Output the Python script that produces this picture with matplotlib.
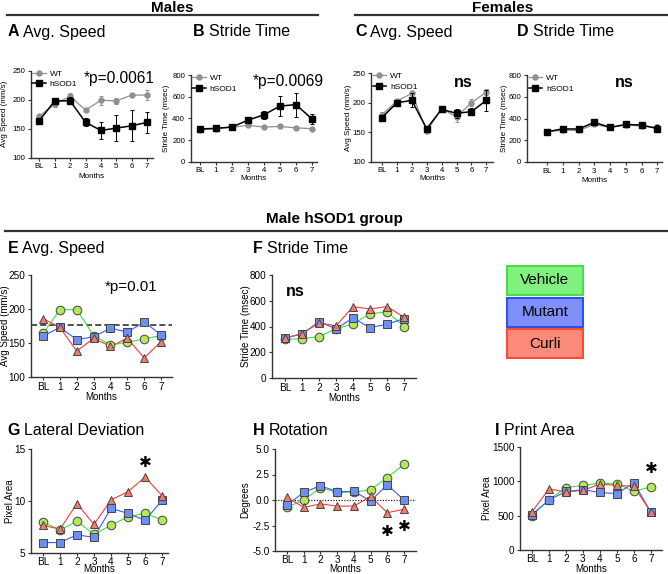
import matplotlib
matplotlib.use("Agg")
import matplotlib.pyplot as plt
from matplotlib.patches import Rectangle
from matplotlib.lines import Line2D

plt.rcParams['font.family'] = ['Liberation Sans', 'DejaVu Sans']

W, H = 668, 574
months = ["BL", "1", "2", "3", "4", "5", "6", "7"]
x = list(range(len(months)))

# ---- Top row: WT vs hSOD1 ----
a_wt = [172, 192, 206, 182, 199, 198, 208, 208]
a_wt_err = [2, 5, 6, 3, 8, 5, 3, 8]
a_sod = [164, 198, 198, 161, 147, 151, 155, 161]
a_sod_err = [3, 3, 6, 7, 15, 22, 27, 18]

b_wt = [293, 305, 318, 335, 320, 325, 312, 305]
b_wt_err = [10, 10, 10, 15, 10, 10, 10, 10]
b_sod = [302, 308, 320, 383, 433, 513, 527, 395]
b_sod_err = [10, 10, 12, 22, 35, 95, 110, 45]

c_wt = [180, 203, 216, 152, 190, 176, 200, 218]
c_wt_err = [5, 3, 3, 3, 3, 8, 6, 5]
c_sod = [175, 200, 204, 156, 189, 182, 185, 204]
c_sod_err = [4, 3, 12, 3, 3, 8, 6, 18]

d_wt = [278, 292, 290, 345, 318, 340, 330, 315]
d_wt_err = [10, 12, 15, 15, 10, 12, 15, 30]
d_sod = [278, 305, 303, 365, 318, 345, 340, 308]
d_sod_err = [10, 15, 20, 20, 10, 15, 20, 30]

# ---- Male hSOD1 group: Vehicle / Mutant / Curli ----
e_veh = [164, 199, 199, 161, 147, 151, 156, 161]
e_mut = [160, 173, 155, 159, 172, 166, 181, 162]
e_cur = [186, 173, 138, 157, 145, 157, 128, 152]
e_ref = 177

f_veh = [300, 305, 322, 382, 420, 498, 515, 400]
f_mut = [312, 340, 437, 382, 466, 390, 418, 462]
f_cur = [310, 345, 428, 405, 554, 536, 555, 472]

g_veh = [8.0, 7.2, 8.05, 6.8, 7.65, 8.5, 8.8, 8.2]
g_mut = [6.0, 6.0, 6.75, 6.5, 9.3, 8.8, 8.15, 10.05]
g_cur = [7.65, 7.3, 9.75, 7.75, 10.1, 10.9, 12.3, 10.5]

h_veh = [-0.7, 0.0, 1.2, 0.75, 0.78, 1.0, 2.2, 3.5]
h_mut = [-0.5, 0.75, 1.4, 0.82, 0.85, -0.1, 1.5, 0.0]
h_cur = [0.25, -0.72, -0.38, -0.6, -0.6, 0.35, -1.25, -0.9]

i_veh = [500, 732, 910, 940, 975, 965, 855, 918]
i_mut = [515, 728, 852, 878, 838, 820, 978, 548]
i_cur = [555, 888, 845, 868, 960, 942, 928, 548]

groups = ["Vehicle", "Mutant", "Curli"]

fig = plt.figure(figsize=(W / 100, H / 100), dpi=100)
renderer = fig.canvas.get_renderer()

SP = '#333333'


def make_ax(l, r, t, b, xlim, ylim, yticks, ticksize, ylabel, labsize, ylab_x, xlab_y, yfmt=None,
            xpad=1.5):
    ax = fig.add_axes([l / W, 1 - b / H, (r - l) / W, (b - t) / H])
    ax.set_xlim(*xlim)
    ax.set_ylim(*ylim)
    for s in ['top', 'right']:
        ax.spines[s].set_visible(False)
    for s in ['left', 'bottom']:
        ax.spines[s].set_color(SP)
        ax.spines[s].set_linewidth(1.0)
    ax.set_xticks(x)
    ax.set_xticklabels(months)
    ax.set_yticks(yticks)
    if yfmt is not None:
        ax.set_yticklabels([yfmt(v) for v in yticks])
    ax.tick_params(axis='both', length=2.5, width=0.8, color=SP, labelsize=ticksize, pad=1.5)
    ax.tick_params(axis='x', pad=xpad)
    ax.set_xlabel("Months", fontsize=labsize, va='center')
    ax.set_ylabel(ylabel, fontsize=labsize, va='center')
    ax.yaxis.set_label_coords((ylab_x - l) / (r - l), 0.5)
    ax.xaxis.set_label_coords(0.5, -(xlab_y - b) / (b - t))
    return ax


def title(xpx, ybase, letter, rest, size=11.5):
    t1 = fig.text(xpx / W, 1 - ybase / H, letter, fontsize=size, fontweight='bold', va='baseline')
    bb = t1.get_window_extent(renderer)
    fig.text((bb.x1 + 4) / W, 1 - ybase / H, rest, fontsize=size, va='baseline')


def top_plot(ax, wt, wte, sod, sode):
    ax.errorbar(x, wt, yerr=wte, color='#909090', marker='o', ms=3.6, mfc='#909090', mec='#909090',
                lw=0.9, elinewidth=0.7, capsize=1.6, capthick=0.7, clip_on=False, zorder=3)
    ax.errorbar(x, sod, yerr=sode, color='black', marker='s', ms=4.2, mfc='black', mec='black',
                lw=1.1, elinewidth=0.7, capsize=1.6, capthick=0.7, clip_on=False, zorder=4)
    h1 = Line2D([], [], color='#909090', marker='o', ms=3.6, lw=0.9)
    h2 = Line2D([], [], color='black', marker='s', ms=4.2, lw=1.1)
    ax.legend([h1, h2], ["WT", "hSOD1"], loc='upper left', frameon=False, fontsize=6,
              handlelength=1.6, handletextpad=0.5, borderaxespad=0.1, borderpad=0.1,
              labelspacing=0.35, bbox_to_anchor=(0.0, 1.03))


STY = {
    "Vehicle": dict(line='#3ee23e', fill='#b4e85a', marker='o', ms=6.2),
    "Mutant": dict(line='#3a5cff', fill='#6e8ff2', marker='s', ms=6.0),
    "Curli": dict(line='#ff3a3a', fill='#f27d6b', marker='^', ms=6.4),
}


def grp_plot(ax, veh, mut, cur):
    for name, vals in zip(groups, [veh, mut, cur]):
        s = STY[name]
        ax.plot(x, vals, color=s['line'], lw=0.8, zorder=3, clip_on=False)
    for name, vals in zip(groups, [veh, mut, cur]):
        s = STY[name]
        ax.plot(x, vals, linestyle='none', marker=s['marker'], ms=s['ms'], mfc=s['fill'],
                mec='#444444', mew=0.7, zorder=4, clip_on=False)


def hline_fig(x0, x1, y, lw=1.6):
    fig.add_artist(Line2D([x0 / W, x1 / W], [1 - y / H, 1 - y / H], color='#333333', lw=lw,
                          transform=fig.transFigure))


# headers
fig.text(172 / W, 1 - 11.5 / H, "Males", fontsize=11, fontweight='bold', ha='center', va='baseline')
fig.text(503 / W, 1 - 11.5 / H, "Females", fontsize=11, fontweight='bold', ha='center', va='baseline')
hline_fig(7, 318, 15)
hline_fig(355, 667, 15)
fig.text(334 / W, 1 - 223 / H, "Male hSOD1 group", fontsize=11, fontweight='bold', ha='center',
         va='baseline')
hline_fig(5, 668, 231)

title(7.5, 36.5, "A", "Avg. Speed")
title(193, 36.5, "B", "Stride Time")
title(355, 36.5, "C", "Avg. Speed")
title(517, 36.5, "D", "Stride Time")
title(7.5, 252.7, "E", "Avg. Speed")
title(253, 252.7, "F", "Stride Time")
title(7.5, 435, "G", "Lateral Deviation")
title(253, 435, "H", "Rotation")
title(495, 435, "I", "Print Area")

TOPT = 5.6
MIDT = 7.2

# ---- Panel A ----
axA = make_ax(30.7, 153, 70.7, 157.7, (-0.56, 7.38), (100, 250), [100, 150, 200, 250], TOPT,
              "Avg Speed (mm/s)", 5.8, 4.8, 177)
top_plot(axA, a_wt, a_wt_err, a_sod, a_sod_err)
fig.text(84 / W, 1 - 82.7 / H, "*p=0.0061", fontsize=11.2, va='baseline')

# ---- Panel B ----
axB = make_ax(190.7, 316.7, 75, 161.7, (-0.58, 7.3), (0, 800), [0, 200, 400, 600, 800], TOPT,
              "Stride Time (msec)", 5.8, 167, 179)
top_plot(axB, b_wt, b_wt_err, b_sod, b_sod_err)
fig.text(253 / W, 1 - 86 / H, "*p=0.0069", fontsize=11.2, va='baseline')

# ---- Panel C ----
axC = make_ax(371, 493, 73.3, 161.7, (-0.74, 7.45), (100, 250), [100, 150, 200, 250], TOPT,
              "Avg Speed (mm/s)", 5.8, 348.5, 179)
top_plot(axC, c_wt, c_wt_err, c_sod, c_sod_err)
fig.text(454 / W, 1 - 87 / H, "ns", fontsize=11.5, fontweight='bold', va='baseline')

# ---- Panel D ----
axD = make_ax(527, 662, 75, 162, (-1.27, 7.3), (0, 800), [0, 200, 400, 600, 800], TOPT,
              "Stride Time (msec)", 5.8, 505, 180)
top_plot(axD, d_wt, d_wt_err, d_sod, d_sod_err)
fig.text(615 / W, 1 - 87 / H, "ns", fontsize=11.5, fontweight='bold', va='baseline')

# ---- Panel E ----
axE = make_ax(31, 172, 275, 377, (-0.71, 7.65), (100, 250), [100, 150, 200, 250], MIDT,
              "Avg Speed (mm/s)", 7.0, 5.2, 397.5, xpad=1.0)
axE.axhline(e_ref, color='#222222', lw=1.1, ls=(0, (4, 2)), zorder=2)
grp_plot(axE, e_veh, e_mut, e_cur)
fig.text(105 / W, 1 - 290.7 / H, "*p=0.01", fontsize=11, va='baseline')

# ---- Panel F ----
axF = make_ax(272, 416, 275, 378, (-0.76, 7.7), (0, 800), [0, 200, 400, 600, 800], MIDT,
              "Stride Time (msec)", 7.0, 246, 398, xpad=1.0)
grp_plot(axF, f_veh, f_mut, f_cur)
fig.text(286 / W, 1 - 296 / H, "ns", fontsize=11.5, fontweight='bold', va='baseline')

# ---- Legend boxes ----
boxes = [("Vehicle", 266, 295, '#80f07e', '#3ee23e'),
         ("Mutant", 298, 327, '#7f90fb', '#2a4cff'),
         ("Curli", 329, 358, '#fc8a7a', '#ff4a2a')]
for name, t, b, fc, ec in boxes:
    fig.add_artist(Rectangle((507 / W, 1 - b / H), 75.5 / W, (b - t) / H, facecolor=fc,
                             edgecolor=ec, lw=1.4, transform=fig.transFigure))
    fig.text(545 / W, 1 - (t + b) / 2 / H, name, fontsize=11, ha='center', va='center')

# ---- Panel G ----
axG = make_ax(31, 168, 449, 553, (-0.7, 7.35), (5, 15), [5, 10, 15], MIDT, "Pixel Area", 7.0,
              10.5, 569.3, xpad=0.5)
grp_plot(axG, g_veh, g_mut, g_cur)
axG.text(6, 13.7, "\u2731", fontsize=11, ha='center', va='center', family='DejaVu Sans')

# ---- Panel H ----
axH = make_ax(275, 416, 449, 551, (-0.72, 7.72), (-5, 5), [-5, -2.5, 0, 2.5, 5], MIDT, "Degrees", 7.0,
              245, 569.3, yfmt=lambda v: f"{v:.1f}", xpad=0.5)
axH.axhline(0, color='#222222', lw=0.9, ls=(0, (1, 1.2)), zorder=2)
grp_plot(axH, h_veh, h_mut, h_cur)
axH.text(6, -3.1, "\u2731", fontsize=11, ha='center', va='center', family='DejaVu Sans')
axH.text(7, -2.55, "\u2731", fontsize=11, ha='center', va='center', family='DejaVu Sans')

# ---- Panel I ----
axI = make_ax(520, 662, 447, 550, (-0.7, 7.65), (0, 1500), [0, 500, 1000, 1500], MIDT, "Pixel Area",
              7.0, 487, 568.5, xpad=0.5)
grp_plot(axI, i_veh, i_mut, i_cur)
axI.text(7, 1194, "\u2731", fontsize=11, ha='center', va='center', family='DejaVu Sans')

fig.savefig("out.png", dpi=100)
